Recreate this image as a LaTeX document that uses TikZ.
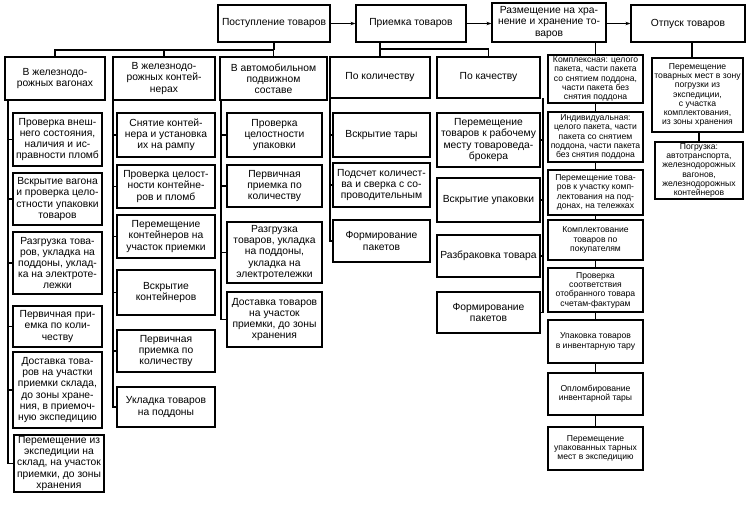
\documentclass[tikz,border=0pt]{standalone}
\usepackage{fontspec}
\setmainfont{Liberation Sans}
\usetikzlibrary{arrows.meta}
\newcommand\mybox[7][box]{\node[#1, minimum width=#5pt, minimum height=#6pt] (#2) at (#3,#4) {#7};}
\begin{document}
\begin{tikzpicture}[x=1pt,y=-1pt,
  box/.style={draw, line width=1.2pt, align=center, inner sep=1pt, font=\fontsize{10.3}{11.2}\selectfont},
  sbox/.style={box, font=\fontsize{8.6}{9.3}\selectfont},
  ln/.style={line width=1.2pt},
  arr/.style={ln, -{Stealth[length=5pt,width=3.5pt]}}]
\useasboundingbox (0,0) rectangle (752,504);
\fill[white] (0,0) rectangle (752,504);

% top row
\mybox{post}{274}{23.5}{112}{37}{Поступление товаров}
\mybox{prie}{411}{23.5}{110}{37}{Приемка товаров}
\mybox{razm}{549}{22.5}{114}{39}{Размещение на хра-\\нение и хранение то-\\варов}
\mybox{otp}{688}{23.5}{114}{37}{Отпуск товаров}

% headers
\mybox{h1}{55}{78.5}{100}{43}{В железнодо-\\рожных вагонах}
\mybox{h2}{164}{78.5}{102}{43}{В железнодо-\\рожных контей-\\нерах}
\mybox{h3}{273.5}{78.5}{107}{43}{В автомобильном\\подвижном\\составе}
\mybox{h4}{380}{77.5}{100}{41}{По количеству}
\mybox{h5}{488.5}{77.5}{103}{41}{По качеству}

% column 1
\mybox{a1}{57.5}{139.5}{89}{53}{Проверка внеш-\\него состояния,\\наличия и ис-\\правности пломб}
\mybox{a2}{57.5}{199}{89}{52}{Вскрытие вагона\\и проверка цело-\\стности упаковки\\товаров}
\mybox{a3}{57.5}{263}{89}{62}{Разгрузка това-\\ров, укладка на\\поддоны, уклад-\\ка на электроте-\\лежки}
\mybox{a4}{57.5}{326.5}{89}{41}{Первичная при-\\емка по коли-\\честву}
\mybox{a5}{57.5}{390}{89}{76}{Доставка това-\\ров на участки\\приемки склада,\\до зоны хране-\\ния, в приемоч-\\ную экспедицию}
\mybox{a6}{59}{463.5}{90}{57}{Перемещение из\\экспедиции на\\склад, на участок\\приемки, до зоны\\хранения}

% column 2
\mybox{b1}{166}{135}{98}{44}{Снятие контей-\\нера и установка\\их на рампу}
\mybox{b2}{166}{186.5}{98}{43}{Проверка целост-\\ности контейне-\\ров и пломб}
\mybox{b3}{166}{236.5}{98}{43}{Перемещение\\контейнеров на\\участок приемки}
\mybox{b4}{166}{292.5}{98}{45}{Вскрытие\\контейнеров}
\mybox{b5}{166}{351}{98}{42}{Первичная\\приемка по\\количеству}
\mybox{b6}{166}{407}{98}{40}{Укладка товаров\\на поддоны}

% column 3
\mybox{c1}{274.5}{135}{95}{44}{Проверка\\целостности\\упаковки}
\mybox{c2}{274.5}{186}{95}{42}{Первичная\\приемка по\\количеству}
\mybox{c3}{274.5}{252.5}{95}{61}{Разгрузка\\товаров, укладка\\на поддоны,\\укладка на\\электротележки}
\mybox{c4}{274.5}{319.5}{95}{55}{Доставка товаров\\на участок\\приемки, до зоны\\хранения}

% column 4
\mybox{d1}{381.5}{135}{97}{44}{Вскрытие тары}
\mybox{d2}{381.5}{185}{97}{44}{Подсчет количест-\\ва и сверка с со-\\проводительным}
\mybox{d3}{381.5}{241}{97}{42}{Формирование\\пакетов}

% column 5
\mybox{e1}{488.5}{140}{103}{54}{Перемещение\\товаров к рабочему\\месту товароведа-\\брокера}
\mybox{e2}{488.5}{200}{103}{44}{Вскрытие упаковки}
\mybox{e3}{488.5}{256}{103}{42}{Разбраковка товара}
\mybox{e4}{488.5}{312.5}{103}{41}{Формирование\\пакетов}

% column 6
\mybox[sbox]{f1}{595.5}{79}{95}{48}{Комплексная: целого\\пакета, части пакета\\со снятием поддона,\\части пакета без\\снятия поддона}
\mybox[sbox]{f2}{595.5}{137}{95}{50}{Индивидуальная:\\целого пакета, части\\пакета со снятием\\поддона, части пакета\\без снятия поддона}
\mybox[sbox]{f3}{595.5}{192.5}{95}{45}{Перемещение това-\\ров к участку комп-\\лектования на под-\\донах, на тележках}
\mybox[sbox]{f4}{595.5}{240}{95}{40}{Комплектование\\товаров по\\покупателям}
\mybox[sbox]{f5}{595.5}{290}{95}{44}{Проверка\\соответствия\\отобранного товара\\счетам-фактурам}
\mybox[sbox]{f6}{595.5}{341.5}{95}{43}{Упаковка товаров\\в инвентарную тару}
\mybox[sbox]{f7}{595.5}{394}{95}{42}{Опломбирование\\инвентарной тары}
\mybox[sbox]{f8}{595.5}{448.5}{95}{43}{Перемещение\\упакованных тарных\\мест в экспедицию}

% column 7
\mybox[sbox]{g1}{697.5}{95}{91}{74}{Перемещение\\товарных мест в зону\\погрузки из\\экспедиции,\\с участка\\комплектования,\\из зоны хранения}
\mybox[sbox]{g2}{699}{170.5}{88}{57}{Погрузка:\\автотранспорта,\\железнодорожных\\вагонов,\\железнодорожных\\контейнеров}

% top arrows
\draw[arr] (post.east) -- (prie.west);
\draw[arr] (prie.east) -- (prie.east -| razm.west);
\draw[arr] (otp.west -| razm.east) -- (otp.west);

% bus from "Поступление товаров"
\coordinate (busA) at (274,50);
\draw[ln] (post.south) -- (busA);
\draw[ln] (h1.north) |- (busA);
\draw[ln] (h2.north) -- (h2.north |- busA);
\draw[ln] (h3.north) -- (h3.north |- busA);

% bus from "Приемка товаров"
\coordinate (busB) at (380,49);
\draw[ln] (h4.north |- prie.south) -- (h4.north);
\draw[ln] (h5.north) |- (busB);

% brackets
\coordinate (L1) at (8,100);
\draw[ln] (L1) |- (a6.west);
\foreach \n in {a1,a2,a3,a4,a5} \draw[ln] (L1 |- \n.west) -- (\n.west);
\coordinate (L2) at (113,100);
\draw[ln] (L2) |- (b6.west);
\foreach \n in {b1,b2,b3,b4,b5} \draw[ln] (L2 |- \n.west) -- (\n.west);
\coordinate (L3) at (221,100);
\draw[ln] (L3) |- (c4.west);
\foreach \n in {c1,c2,c3} \draw[ln] (L3 |- \n.west) -- (\n.west);
\coordinate (L4) at (330,98);
\draw[ln] (L4) |- (d3.west);
\foreach \n in {d1,d2} \draw[ln] (L4 |- \n.west) -- (\n.west);
\coordinate (L5) at (543,98);
\draw[ln] (L5) |- (e4.east);
\foreach \n in {e1,e2,e3} \draw[ln] (L5 |- \n.east) -- (\n.east);

% column 6 chain
\draw[ln] (f1.north |- razm.south) -- (f1.north);
\draw[ln] (f1.south) -- (f2.north);
\draw[ln] (f2.south) -- (f3.north);
\draw[ln] (f3.south) -- (f4.north);
\draw[ln] (f4.south) -- (f5.north);
\draw[ln] (f5.south) -- (f6.north);
\draw[ln] (f6.south) -- (f7.north);
\draw[ln] (f7.south) -- (f8.north);

% column 7 chain
\coordinate (G) at (692,0);
\draw[ln] (G |- otp.south) -- (G |- g1.north);
\draw[ln] (g1.south -| g2.north) -- (g2.north);
\end{tikzpicture}
\end{document}
